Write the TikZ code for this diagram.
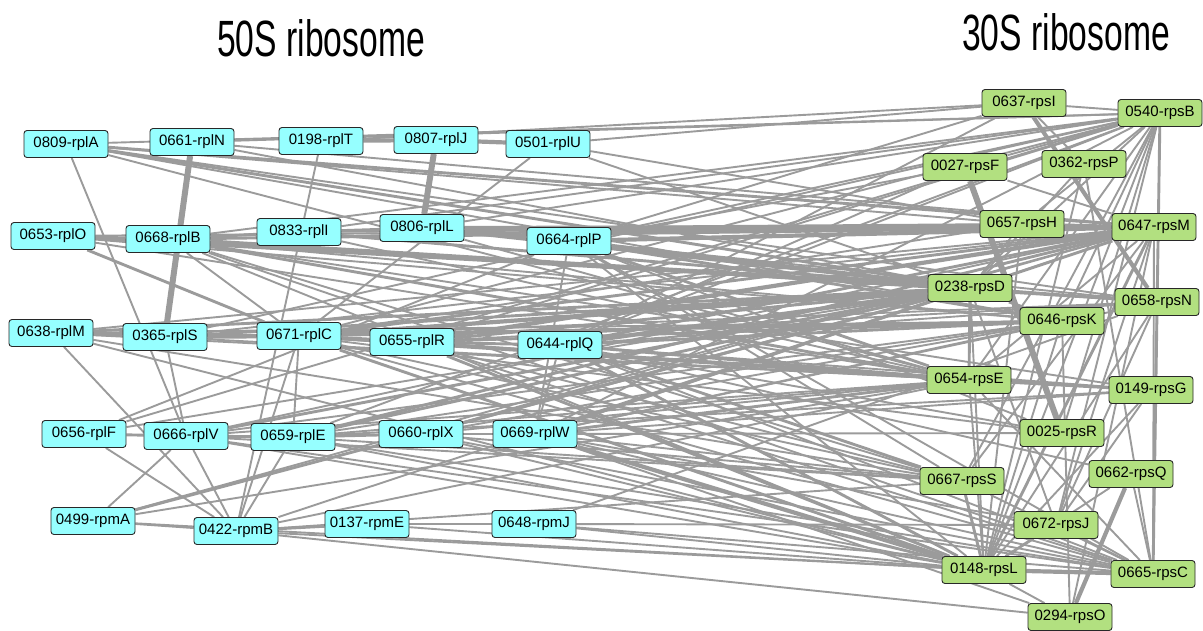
\documentclass[tikz,border=0pt]{standalone}
\usepackage{fontspec}
\setmainfont{Liberation Sans}
\newfontfamily\titlefont{Liberation Sans}
\usetikzlibrary{backgrounds}
\definecolor{lsufill}{RGB}{150,255,255}
\definecolor{ssufill}{RGB}{178,224,128}
\definecolor{edgegrey}{RGB}{155,155,155}
\definecolor{boxline}{RGB}{40,40,40}
\tikzset{
  protbox/.style={draw=boxline, line width=0.9pt, rounded corners=3pt,
    minimum width=84pt, minimum height=27pt, inner sep=0pt,
    font=\fontsize{15}{18}\selectfont},
  lsu/.style={protbox, fill=lsufill},
  ssu/.style={protbox, fill=ssufill},
  link/.style={draw=edgegrey, line width=1.9pt},
  linkm/.style={draw=edgegrey, line width=2.9pt},
  linkt/.style={draw=edgegrey, line width=4.2pt},
  linkx/.style={draw=edgegrey, line width=6pt},
  grouptitle/.style={font=\titlefont\fontsize{51}{56}\selectfont, inner sep=0pt}
}
\begin{document}
\begin{tikzpicture}[x=1pt, y=-1pt]
\useasboundingbox (0,0) rectangle (1203,630);

% titles
\node[grouptitle] (t50) at (321,38) {\scalebox{0.66}[1]{50S ribosome}};
\node[grouptitle] (t30) at (1066,32) {\scalebox{0.66}[1]{30S ribosome}};

% 50S proteins
\node[lsu] (rplA) at (66,144) {0809-rplA};
\node[lsu] (rplN) at (192,142) {0661-rplN};
\node[lsu] (rplT) at (321,141) {0198-rplT};
\node[lsu] (rplJ) at (436,140) {0807-rplJ};
\node[lsu] (rplU) at (548,144) {0501-rplU};
\node[lsu] (rplO) at (53,236) {0653-rplO};
\node[lsu] (rplB) at (168,239) {0668-rplB};
\node[lsu] (rplI) at (299,232) {0833-rplI};
\node[lsu] (rplL) at (422,228) {0806-rplL};
\node[lsu] (rplP) at (569,241) {0664-rplP};
\node[lsu] (rplM) at (51,333) {0638-rplM};
\node[lsu] (rplS) at (165,337) {0365-rplS};
\node[lsu] (rplC) at (299,336) {0671-rplC};
\node[lsu] (rplR) at (412,342) {0655-rplR};
\node[lsu] (rplQ) at (560,345) {0644-rplQ};
\node[lsu] (rplF) at (84,434) {0656-rplF};
\node[lsu] (rplV) at (186,436) {0666-rplV};
\node[lsu] (rplE) at (293,437) {0659-rplE};
\node[lsu] (rplX) at (421,434) {0660-rplX};
\node[lsu] (rplW) at (535,434) {0669-rplW};
\node[lsu] (rpmA) at (93,521) {0499-rpmA};
\node[lsu] (rpmB) at (236,531) {0422-rpmB};
\node[lsu] (rpmE) at (367,524) {0137-rpmE};
\node[lsu] (rpmJ) at (534,524) {0648-rpmJ};

% 30S proteins
\node[ssu] (rpsI) at (1024,103) {0637-rpsI};
\node[ssu] (rpsB) at (1160,113) {0540-rpsB};
\node[ssu] (rpsF) at (965,167) {0027-rpsF};
\node[ssu] (rpsP) at (1084,164) {0362-rpsP};
\node[ssu] (rpsH) at (1022,224) {0657-rpsH};
\node[ssu] (rpsM) at (1154,227) {0647-rpsM};
\node[ssu] (rpsD) at (970,288) {0238-rpsD};
\node[ssu] (rpsN) at (1157,302) {0658-rpsN};
\node[ssu] (rpsK) at (1062,321) {0646-rpsK};
\node[ssu] (rpsE) at (969,380) {0654-rpsE};
\node[ssu] (rpsG) at (1151,390) {0149-rpsG};
\node[ssu] (rpsR) at (1062,433) {0025-rpsR};
\node[ssu] (rpsQ) at (1131,474) {0662-rpsQ};
\node[ssu] (rpsS) at (962,481) {0667-rpsS};
\node[ssu] (rpsJ) at (1056,525) {0672-rpsJ};
\node[ssu] (rpsL) at (984,570) {0148-rpsL};
\node[ssu] (rpsC) at (1153,574) {0665-rpsC};
\node[ssu] (rpsO) at (1070,617) {0294-rpsO};

\begin{pgfonlayer}{background}
% interactions among 50S proteins
\foreach \a/\b in {rplN/rplS, rplJ/rplL}
  \draw[linkx] (\a) -- (\b);
\foreach \a/\b in {rplT/rplJ, rplJ/rplU, rplS/rplC, rplC/rplR}
  \draw[linkt] (\a) -- (\b);
\foreach \a/\b in {rplO/rplB, rplB/rplI, rplI/rplL, rplL/rplP, rplM/rplS,
    rplR/rplQ, rplF/rplV, rplV/rplE, rplE/rplX, rplX/rplW, rpmB/rpmE,
    rplM/rplC, rplO/rplC}
  \draw[linkm] (\a) -- (\b);
\foreach \a/\b in {rplT/rpmB, rplU/rplC, rplA/rplV, rpmA/rpmB, rpmE/rpmJ,
    rplF/rpmB, rplM/rpmB, rplF/rplP, rplC/rplE, rplS/rplV, rpmA/rplV,
    rplV/rpmB, rplE/rpmB, rplC/rpmB, rplQ/rplW, rplP/rplW, rplB/rplC}
  \draw[link] (\a) -- (\b);

% interactions between the subunits
\foreach \a/\b in {rplC/rpsD, rplB/rpsD, rplP/rpsD, rplR/rpsM, rplQ/rpsD,
    rplW/rpsL, rplL/rpsM, rplP/rpsM}
  \draw[linkt] (\a) -- (\b);
\foreach \a/\b in {rplA/rpsM, rplA/rpsD, rplB/rpsM, rplB/rpsE, rplI/rpsD,
    rplL/rpsD, rplC/rpsM, rplC/rpsE, rplC/rpsL, rplR/rpsD, rplR/rpsE,
    rplQ/rpsM, rplQ/rpsE, rplQ/rpsS, rplE/rpsD, rplE/rpsM, rplW/rpsD,
    rplW/rpsM, rplW/rpsE, rplX/rpsD, rplV/rpsD, rplP/rpsE, rplP/rpsK,
    rplS/rpsD, rpmA/rpsD, rplM/rpsD, rplO/rpsD, rplR/rpsL, rplQ/rpsL,
    rplR/rpsK, rplQ/rpsK, rplC/rpsK}
  \draw[linkm] (\a) -- (\b);
\foreach \a/\b in {rplA/rpsB, rplA/rpsK, rplA/rpsN, rplA/rpsH, rplA/rpsE,
    rplN/rpsM, rplN/rpsD, rplN/rpsB, rplT/rpsI, rplU/rpsH, rplU/rpsD,
    rplU/rpsI, rplO/rpsE, rplO/rpsM, rplO/rpsK, rplB/rpsB, rplB/rpsK,
    rplB/rpsS, rplB/rpsL, rplB/rpsC, rplB/rpsN, rplB/rpsG, rplB/rpsH,
    rplI/rpsM, rplI/rpsB, rplI/rpsE, rplL/rpsH, rplL/rpsE, rplL/rpsB,
    rplP/rpsB, rplP/rpsL, rplP/rpsC, rplP/rpsS, rplP/rpsR, rplP/rpsN,
    rplP/rpsI, rplP/rpsF, rplM/rpsE, rplM/rpsK, rplM/rpsS, rplM/rpsM,
    rplM/rpsL, rplS/rpsM, rplS/rpsB, rplS/rpsE, rplS/rpsK, rplC/rpsB,
    rplC/rpsS, rplC/rpsC, rplC/rpsN, rplC/rpsG, rplC/rpsR, rplC/rpsH,
    rplR/rpsB, rplR/rpsS, rplR/rpsC, rplR/rpsN, rplR/rpsG, rplQ/rpsB,
    rplQ/rpsC, rplQ/rpsG, rplQ/rpsQ, rplQ/rpsF, rplQ/rpsI, rplQ/rpsN,
    rplQ/rpsR, rplF/rpsD, rplF/rpsB, rplV/rpsM, rplV/rpsE, rplV/rpsL,
    rplV/rpsK, rplV/rpsS, rplV/rpsC, rplE/rpsE, rplE/rpsS, rplE/rpsL,
    rplE/rpsB, rplE/rpsC, rplE/rpsK, rplE/rpsG, rplX/rpsE, rplX/rpsS,
    rplX/rpsL, rplX/rpsM, rplX/rpsK, rplX/rpsC, rplW/rpsB, rplW/rpsS,
    rplW/rpsC, rplW/rpsK, rplW/rpsJ, rplW/rpsG, rplW/rpsO, rplW/rpsR,
    rplW/rpsN, rpmA/rpsE, rpmA/rpsL, rpmA/rpsM, rpmB/rpsO, rpmB/rpsL,
    rpmB/rpsS, rpmB/rpsE, rpmB/rpsD, rpmE/rpsL, rpmJ/rpsJ, rpmJ/rpsN,
    rpmJ/rpsL, rpmJ/rpsC}
  \draw[link] (\a) -- (\b);

% interactions among 30S proteins
\foreach \a/\b in {rpsF/rpsR}
  \draw[linkx] (\a) -- (\b);
\foreach \a/\b in {rpsI/rpsN, rpsO/rpsQ, rpsL/rpsC}
  \draw[linkt] (\a) -- (\b);
\foreach \a/\b in {rpsB/rpsC, rpsM/rpsL, rpsD/rpsE, rpsD/rpsN, rpsE/rpsG,
    rpsH/rpsM, rpsD/rpsK, rpsS/rpsL}
  \draw[linkm] (\a) -- (\b);
\foreach \a/\b in {rpsB/rpsD, rpsB/rpsE, rpsB/rpsL, rpsB/rpsS, rpsB/rpsJ,
    rpsB/rpsR, rpsB/rpsK, rpsB/rpsH, rpsB/rpsF, rpsB/rpsI, rpsM/rpsD,
    rpsM/rpsS, rpsM/rpsJ, rpsM/rpsE, rpsM/rpsC, rpsM/rpsO, rpsD/rpsL,
    rpsD/rpsJ, rpsE/rpsL, rpsE/rpsC, rpsK/rpsL, rpsK/rpsO, rpsN/rpsC,
    rpsN/rpsL, rpsN/rpsJ, rpsG/rpsL, rpsG/rpsJ, rpsQ/rpsL, rpsQ/rpsC,
    rpsS/rpsC, rpsJ/rpsC, rpsJ/rpsL, rpsL/rpsO, rpsP/rpsL, rpsP/rpsC,
    rpsP/rpsD, rpsH/rpsL, rpsH/rpsD, rpsI/rpsP, rpsF/rpsM}
  \draw[link] (\a) -- (\b);
\end{pgfonlayer}
\end{tikzpicture}
\end{document}
